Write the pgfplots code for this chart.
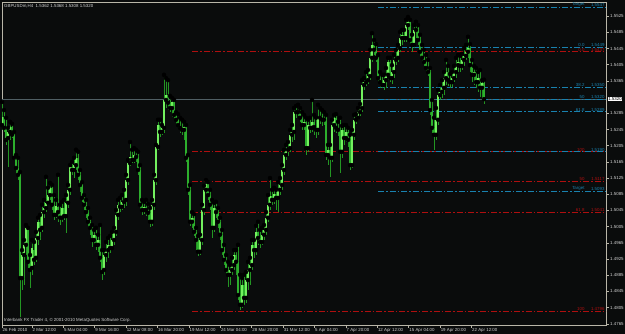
\documentclass[border=0pt]{standalone}
\usepackage{pgfplots}
\pgfplotsset{compat=1.18}
\usepackage{pgfplotstable}
\usepackage{fontspec}
\setmainfont{Liberation Sans}
\definecolor{bg}{RGB}{10,12,12}
\definecolor{framec}{RGB}{185,182,168}
\definecolor{txt}{RGB}{210,210,210}
\definecolor{fibblue}{RGB}{25,130,175}
\definecolor{fibred}{RGB}{175,15,15}
\definecolor{wick}{RGB}{35,150,35}
\definecolor{bull}{RGB}{115,240,95}
\definecolor{bear}{RGB}{45,175,45}
\definecolor{pricegray}{RGB}{80,95,100}

\pgfplotstableread{
n o h l c
0 1.5256 1.5313 1.5244 1.5276
1 1.5276 1.5293 1.5239 1.5249
2 1.5249 1.5274 1.5207 1.5219
3 1.5224 1.5249 1.5152 1.5239
4 1.5239 1.5264 1.5219 1.5251
5 1.5251 1.5259 1.5224 1.5232
6 1.5232 1.5239 1.5170 1.5175
7 1.5175 1.5182 1.5133 1.5150
8 1.5150 1.5175 1.5120 1.5133
9 1.5133 1.5140 1.4782 1.4878
10 1.4878 1.4947 1.4849 1.4935
11 1.4935 1.4972 1.4861 1.4960
12 1.4960 1.5009 1.4935 1.5002
13 1.4997 1.5002 1.4903 1.4918
14 1.4918 1.4935 1.4854 1.4898
15 1.4903 1.4972 1.4886 1.4952
16 1.4947 1.4967 1.4910 1.4923
17 1.4928 1.4992 1.4918 1.4977
18 1.4977 1.5027 1.4960 1.5017
19 1.5017 1.5034 1.4972 1.4997
20 1.5002 1.5059 1.4992 1.5041
21 1.5041 1.5071 1.5027 1.5051
22 1.5051 1.5128 1.5041 1.5064
23 1.5064 1.5101 1.5059 1.5083
24 1.5083 1.5113 1.5071 1.5101
25 1.5101 1.5108 1.5046 1.5059
26 1.5059 1.5083 1.5022 1.5034
27 1.5034 1.5071 1.5027 1.5056
28 1.5054 1.5133 1.5017 1.5041
29 1.5041 1.5059 1.5009 1.5027
30 1.5027 1.5066 1.5017 1.5051
31 1.5051 1.5071 1.5022 1.5031
32 1.5031 1.5083 1.4990 1.5064
33 1.5064 1.5108 1.5051 1.5096
34 1.5096 1.5157 1.5083 1.5152
35 1.5152 1.5165 1.5133 1.5145
36 1.5145 1.5175 1.5125 1.5157
37 1.5157 1.5195 1.5145 1.5175
38 1.5175 1.5190 1.5120 1.5133
39 1.5133 1.5145 1.5091 1.5108
40 1.5108 1.5115 1.5066 1.5076
41 1.5076 1.5083 1.5046 1.5059
42 1.5059 1.5071 1.5027 1.5041
43 1.5041 1.5051 1.5002 1.5017
44 1.5017 1.5027 1.4985 1.5002
45 1.5002 1.5009 1.4955 1.4972
46 1.4972 1.4997 1.4960 1.4985
47 1.4985 1.5002 1.4947 1.4960
48 1.4960 1.4985 1.4943 1.4972
49 1.4972 1.5009 1.4918 1.4928
50 1.4928 1.4947 1.4873 1.4893
51 1.4898 1.4947 1.4886 1.4935
52 1.4935 1.4967 1.4918 1.4947
53 1.4947 1.4977 1.4928 1.4960
54 1.4960 1.4982 1.4940 1.4952
55 1.4952 1.4992 1.4947 1.4972
56 1.4972 1.5002 1.4960 1.4992
57 1.4992 1.5046 1.4982 1.5034
58 1.5034 1.5071 1.5022 1.5059
59 1.5059 1.5076 1.5041 1.5054
60 1.5054 1.5083 1.5046 1.5066
61 1.5066 1.5096 1.5051 1.5071
62 1.5071 1.5133 1.5056 1.5120
63 1.5120 1.5170 1.5108 1.5162
64 1.5162 1.5214 1.5155 1.5177
65 1.5177 1.5195 1.5162 1.5170
66 1.5170 1.5199 1.5162 1.5182
67 1.5182 1.5195 1.5165 1.5177
68 1.5177 1.5190 1.5133 1.5145
69 1.5145 1.5157 1.5046 1.5059
70 1.5059 1.5071 1.5034 1.5046
71 1.5046 1.5066 1.5036 1.5054
72 1.5054 1.5071 1.5031 1.5046
73 1.5046 1.5061 1.5022 1.5039
74 1.5039 1.5051 1.5004 1.5017
75 1.5017 1.5071 1.5007 1.5059
76 1.5059 1.5133 1.5046 1.5120
77 1.5120 1.5207 1.5108 1.5202
78 1.5202 1.5269 1.5195 1.5256
79 1.5256 1.5269 1.5227 1.5239
80 1.5239 1.5256 1.5232 1.5249
81 1.5249 1.5380 1.5236 1.5318
82 1.5318 1.5372 1.5298 1.5330
83 1.5330 1.5367 1.5293 1.5311
84 1.5311 1.5328 1.5288 1.5298
85 1.5298 1.5323 1.5276 1.5313
86 1.5313 1.5318 1.5269 1.5281
87 1.5281 1.5288 1.5256 1.5269
88 1.5269 1.5283 1.5249 1.5256
89 1.5256 1.5274 1.5236 1.5249
90 1.5249 1.5269 1.5232 1.5244
91 1.5244 1.5264 1.5219 1.5251
92 1.5251 1.5256 1.5165 1.5175
93 1.5175 1.5182 1.5083 1.5096
94 1.5096 1.5108 1.5007 1.5017
95 1.5017 1.5041 1.5002 1.5027
96 1.5027 1.5036 1.4982 1.4992
97 1.4992 1.5002 1.4947 1.4972
98 1.4972 1.4982 1.4933 1.4943
99 1.4943 1.4985 1.4935 1.4972
100 1.4972 1.5059 1.4960 1.5046
101 1.5046 1.5106 1.5034 1.5096
102 1.5096 1.5120 1.5083 1.5110
103 1.5110 1.5115 1.5071 1.5083
104 1.5083 1.5096 1.5046 1.5059
105 1.5059 1.5071 1.4977 1.5002
106 1.5002 1.5064 1.4992 1.5051
107 1.5051 1.5066 1.5027 1.5041
108 1.5041 1.5051 1.5002 1.5017
109 1.5017 1.5027 1.4972 1.4985
110 1.4985 1.4997 1.4935 1.4947
111 1.4947 1.4960 1.4910 1.4923
112 1.4923 1.4935 1.4886 1.4898
113 1.4898 1.4918 1.4856 1.4886
114 1.4886 1.4910 1.4861 1.4898
115 1.4898 1.4928 1.4886 1.4910
116 1.4910 1.4947 1.4898 1.4935
117 1.4935 1.4947 1.4886 1.4918
118 1.4918 1.4960 1.4824 1.4836
119 1.4836 1.4886 1.4799 1.4812
120 1.4812 1.4878 1.4804 1.4861
121 1.4861 1.4886 1.4812 1.4829
122 1.4829 1.4893 1.4817 1.4873
123 1.4873 1.4918 1.4849 1.4898
124 1.4898 1.4928 1.4861 1.4910
125 1.4910 1.4972 1.4898 1.4960
126 1.4960 1.4972 1.4928 1.4947
127 1.4947 1.5007 1.4935 1.4992
128 1.4992 1.5017 1.4960 1.4977
129 1.4977 1.4997 1.4952 1.4967
130 1.4967 1.5002 1.4960 1.4985
131 1.4985 1.5009 1.4972 1.4997
132 1.4997 1.5041 1.4985 1.5027
133 1.5027 1.5083 1.5017 1.5059
134 1.5059 1.5125 1.5046 1.5081
135 1.5081 1.5096 1.5059 1.5071
136 1.5071 1.5101 1.5061 1.5086
137 1.5086 1.5096 1.5046 1.5076
138 1.5076 1.5115 1.5041 1.5096
139 1.5096 1.5125 1.5083 1.5108
140 1.5108 1.5157 1.5096 1.5145
141 1.5145 1.5195 1.5133 1.5182
142 1.5182 1.5207 1.5170 1.5195
143 1.5195 1.5214 1.5180 1.5199
144 1.5199 1.5244 1.5190 1.5232
145 1.5232 1.5256 1.5214 1.5239
146 1.5239 1.5298 1.5219 1.5288
147 1.5288 1.5303 1.5274 1.5293
148 1.5293 1.5306 1.5278 1.5288
149 1.5288 1.5298 1.5264 1.5274
150 1.5274 1.5288 1.5244 1.5256
151 1.5256 1.5281 1.5244 1.5264
152 1.5264 1.5274 1.5182 1.5199
153 1.5199 1.5269 1.5190 1.5256
154 1.5256 1.5274 1.5236 1.5249
155 1.5249 1.5318 1.5239 1.5264
156 1.5264 1.5281 1.5232 1.5251
157 1.5251 1.5274 1.5224 1.5244
158 1.5244 1.5306 1.5232 1.5274
159 1.5274 1.5298 1.5259 1.5278
160 1.5278 1.5293 1.5254 1.5269
161 1.5269 1.5288 1.5256 1.5274
162 1.5274 1.5281 1.5170 1.5182
163 1.5182 1.5207 1.5157 1.5195
164 1.5195 1.5207 1.5128 1.5175
165 1.5175 1.5269 1.5165 1.5256
166 1.5256 1.5281 1.5239 1.5274
167 1.5274 1.5283 1.5236 1.5249
168 1.5249 1.5264 1.5229 1.5244
169 1.5244 1.5274 1.5138 1.5190
170 1.5190 1.5254 1.5175 1.5244
171 1.5244 1.5256 1.5207 1.5224
172 1.5224 1.5256 1.5214 1.5239
173 1.5239 1.5249 1.5202 1.5219
174 1.5219 1.5232 1.5145 1.5157
175 1.5157 1.5244 1.5150 1.5232
176 1.5232 1.5281 1.5219 1.5269
177 1.5269 1.5283 1.5259 1.5274
178 1.5274 1.5298 1.5269 1.5288
179 1.5288 1.5308 1.5278 1.5298
180 1.5298 1.5367 1.5288 1.5355
181 1.5355 1.5372 1.5343 1.5362
182 1.5362 1.5387 1.5353 1.5367
183 1.5367 1.5392 1.5358 1.5377
184 1.5377 1.5442 1.5367 1.5422
185 1.5422 1.5483 1.5412 1.5454
186 1.5454 1.5466 1.5429 1.5442
187 1.5442 1.5456 1.5412 1.5422
188 1.5422 1.5429 1.5362 1.5372
189 1.5372 1.5387 1.5348 1.5362
190 1.5362 1.5380 1.5348 1.5355
191 1.5355 1.5380 1.5343 1.5367
192 1.5367 1.5397 1.5348 1.5380
193 1.5380 1.5422 1.5367 1.5412
194 1.5412 1.5422 1.5362 1.5372
195 1.5372 1.5404 1.5358 1.5387
196 1.5387 1.5429 1.5372 1.5417
197 1.5417 1.5442 1.5404 1.5422
198 1.5422 1.5454 1.5412 1.5446
199 1.5446 1.5486 1.5437 1.5471
200 1.5471 1.5491 1.5454 1.5479
201 1.5479 1.5491 1.5461 1.5471
202 1.5471 1.5516 1.5461 1.5503
203 1.5503 1.5523 1.5491 1.5511
204 1.5511 1.5516 1.5454 1.5466
205 1.5466 1.5479 1.5437 1.5454
206 1.5454 1.5503 1.5446 1.5491
207 1.5491 1.5511 1.5471 1.5496
208 1.5496 1.5503 1.5454 1.5466
209 1.5466 1.5479 1.5422 1.5437
210 1.5437 1.5454 1.5412 1.5422
211 1.5422 1.5442 1.5402 1.5412
212 1.5412 1.5429 1.5387 1.5397
213 1.5397 1.5417 1.5377 1.5387
214 1.5387 1.5397 1.5281 1.5293
215 1.5293 1.5318 1.5236 1.5249
216 1.5249 1.5274 1.5195 1.5232
217 1.5232 1.5298 1.5219 1.5269
218 1.5269 1.5343 1.5256 1.5330
219 1.5330 1.5355 1.5318 1.5338
220 1.5338 1.5367 1.5323 1.5348
221 1.5348 1.5387 1.5330 1.5372
222 1.5372 1.5417 1.5355 1.5387
223 1.5387 1.5402 1.5353 1.5367
224 1.5367 1.5382 1.5348 1.5362
225 1.5362 1.5387 1.5350 1.5372
226 1.5372 1.5402 1.5362 1.5387
227 1.5387 1.5422 1.5372 1.5404
228 1.5404 1.5429 1.5387 1.5412
229 1.5412 1.5427 1.5387 1.5402
230 1.5402 1.5432 1.5392 1.5417
231 1.5417 1.5446 1.5402 1.5427
232 1.5427 1.5454 1.5417 1.5437
233 1.5437 1.5474 1.5422 1.5446
234 1.5446 1.5456 1.5387 1.5404
235 1.5404 1.5417 1.5362 1.5380
236 1.5380 1.5402 1.5355 1.5387
237 1.5387 1.5397 1.5348 1.5362
238 1.5362 1.5387 1.5338 1.5372
239 1.5372 1.5392 1.5325 1.5348
240 1.5348 1.5367 1.5318 1.5360
241 1.5360 1.5368 1.5308 1.5320
}\candles

\newcommand\sz{\fontsize{4.4}{5}\selectfont}

\begin{document}
\begin{tikzpicture}[x=1pt,y=1pt]
\fill[bg] (0,0) rectangle (625,334);
\begin{axis}[
  at={(2pt,9pt)}, anchor=south west,
  scale only axis, width=604pt, height=323pt,
  xmin=0, xmax=302, ymin=1.4762, ymax=1.5560,
  axis background/.style={fill=bg},
  axis line style={framec, line width=0.6pt},
  tick style={framec, line width=0.5pt},
  major tick length=3pt, tick align=outside,
  xtick pos=left, ytick pos=right, yticklabel pos=right,
  xtick={0,14.95,30.65,46.35,62.05,77.75,93.45,109.15,124.85,140.55,156.25,171.95,187.65,203.35,219.05,234.75},
  xticklabels={26 Feb 2010,2 Mar 12:00,5 Mar 04:00,9 Mar 16:00,12 Mar 08:00,16 Mar 20:00,19 Mar 12:00,24 Mar 04:00,28 Mar 20:00,31 Mar 12:00,5 Apr 04:00,7 Apr 20:00,12 Apr 12:00,15 Apr 04:00,19 Apr 20:00,22 Apr 12:00},
  xticklabel style={anchor=north west, font=\sz, text=txt, inner sep=0pt, xshift=0.5pt, yshift=-0.5pt},
  ytick={1.4765,1.4805,1.4845,1.4885,1.4925,1.4965,1.5005,1.5045,1.5085,1.5125,1.5165,1.5205,1.5245,1.5285,1.5365,1.5405,1.5445,1.5485,1.5525},
  scaled y ticks=false,
  /pgf/number format/assume math mode=true,
  yticklabel style={anchor=west, font=\sz, text=txt, inner sep=0pt, xshift=1pt,
    /pgf/number format/.cd, fixed, fixed zerofill, precision=4, 1000 sep={}},
  clip=true,
  fibline/.style={line width=0.85pt, dash pattern=on 6pt off 2pt on 1.5pt off 2pt},
]
% current price line
\addplot[draw=pricegray, line width=0.8pt, forget plot] coordinates {(-1,1.5320) (302,1.5320)};
% red fibonacci levels
\addplot[draw=fibred, fibline] coordinates {(95,1.5437) (302,1.5437)};
\addplot[draw=fibred, fibline] coordinates {(95,1.5192) (302,1.5192)};
\addplot[draw=fibred, fibline] coordinates {(95,1.5117) (302,1.5117)};
\addplot[draw=fibred, fibline] coordinates {(95,1.5041) (302,1.5041)};
\addplot[draw=fibred, fibline] coordinates {(95,1.4796) (302,1.4796)};
% blue fibonacci levels
\addplot[draw=fibblue, fibline] coordinates {(188,1.5547) (302,1.5547)};
\addplot[draw=fibblue, fibline] coordinates {(188,1.5449) (302,1.5449)};
\addplot[draw=fibblue, fibline] coordinates {(188,1.5350) (302,1.5350)};
\addplot[draw=fibblue, fibline] coordinates {(188,1.5320) (302,1.5320)};
\addplot[draw=fibblue, fibline] coordinates {(188,1.5289) (302,1.5289)};
\addplot[draw=fibblue, fibline] coordinates {(188,1.5190) (302,1.5190)};
\addplot[draw=fibblue, fibline] coordinates {(188,1.5093) (302,1.5093)};
% wicks
\addplot[only marks, mark=none, error bars/.cd, y dir=minus, y explicit, error mark=none,
  error bar style={draw=wick, line width=0.6pt}]
  table[x=n, y=h, y error minus expr=\thisrow{h}-\thisrow{l}] {\candles};
% bull bodies
\addplot[only marks, mark=none, restrict expr to domain={\thisrow{c}-\thisrow{o}}{0:1},
  error bars/.cd, y dir=plus, y explicit, error mark=none,
  error bar style={draw=bull, line width=1.7pt}]
  table[x=n, y=o, y error plus expr=\thisrow{c}-\thisrow{o}] {\candles};
% bear bodies
\addplot[only marks, mark=none, restrict expr to domain={\thisrow{o}-\thisrow{c}}{0:1},
  error bars/.cd, y dir=plus, y explicit, error mark=none,
  error bar style={draw=bear, line width=1.7pt}]
  table[x=n, y=c, y error plus expr=\thisrow{o}-\thisrow{c}] {\candles};
% level labels
\begin{scope}[every node/.style={font=\sz, inner sep=0.3pt}]
\node[anchor=south east, text=fibblue] at (axis cs:291.5,1.5547) {Target};
\node[anchor=south east, text=fibblue] at (axis cs:301.5,1.5547) {1.5547};
\node[anchor=south east, text=fibblue] at (axis cs:291.5,1.5449) {0.0};
\node[anchor=south east, text=fibblue] at (axis cs:301.5,1.5449) {1.5449};
\node[anchor=south east, text=fibred] at (axis cs:291.5,1.5437) {0.0};
\node[anchor=south east, text=fibred] at (axis cs:301.5,1.5437) {1.5437};
\node[anchor=south east, text=fibblue] at (axis cs:291.5,1.5350) {38.2};
\node[anchor=south east, text=fibblue] at (axis cs:301.5,1.5350) {1.5350};
\node[anchor=south east, text=fibblue] at (axis cs:291.5,1.5320) {50};
\node[anchor=south east, text=fibblue] at (axis cs:301.5,1.5320) {1.5320};
\node[anchor=south east, text=fibblue] at (axis cs:291.5,1.5289) {61.8};
\node[anchor=south east, text=fibblue] at (axis cs:301.5,1.5289) {1.5289};
\node[anchor=south east, text=fibred] at (axis cs:291.5,1.5190) {100};
\node[anchor=south east, text=fibblue] at (axis cs:301.5,1.5190) {1.5190};
\node[anchor=south east, text=fibred] at (axis cs:291.5,1.5117) {50};
\node[anchor=south east, text=fibred] at (axis cs:301.5,1.5117) {1.5117};
\node[anchor=south east, text=fibblue] at (axis cs:291.5,1.5093) {Target};
\node[anchor=south east, text=fibblue] at (axis cs:301.5,1.5093) {1.5093};
\node[anchor=south east, text=fibred] at (axis cs:291.5,1.5041) {61.8};
\node[anchor=south east, text=fibred] at (axis cs:301.5,1.5041) {1.5041};
\node[anchor=south east, text=fibred] at (axis cs:291.5,1.4796) {100};
\node[anchor=south east, text=fibred] at (axis cs:301.5,1.4796) {1.4796};
\end{scope}
\end{axis}
% current price box on the axis
\node[anchor=west, fill=white, text=black, font=\sz, inner sep=0.6pt] at (607.5,{334-99}) {1.5320};
% title and copyright
\node[anchor=west, text=txt, font=\sz, inner sep=0pt] at (4,328) {GBPUSDm,H4 \ 1.5362 1.5368 1.5308 1.5320};
\node[anchor=west, text=txt, font=\sz, inner sep=0pt] at (4,13.5) {Interbank FX Trader 4, © 2001-2010 MetaQuotes Software Corp.};
\end{tikzpicture}
\end{document}
